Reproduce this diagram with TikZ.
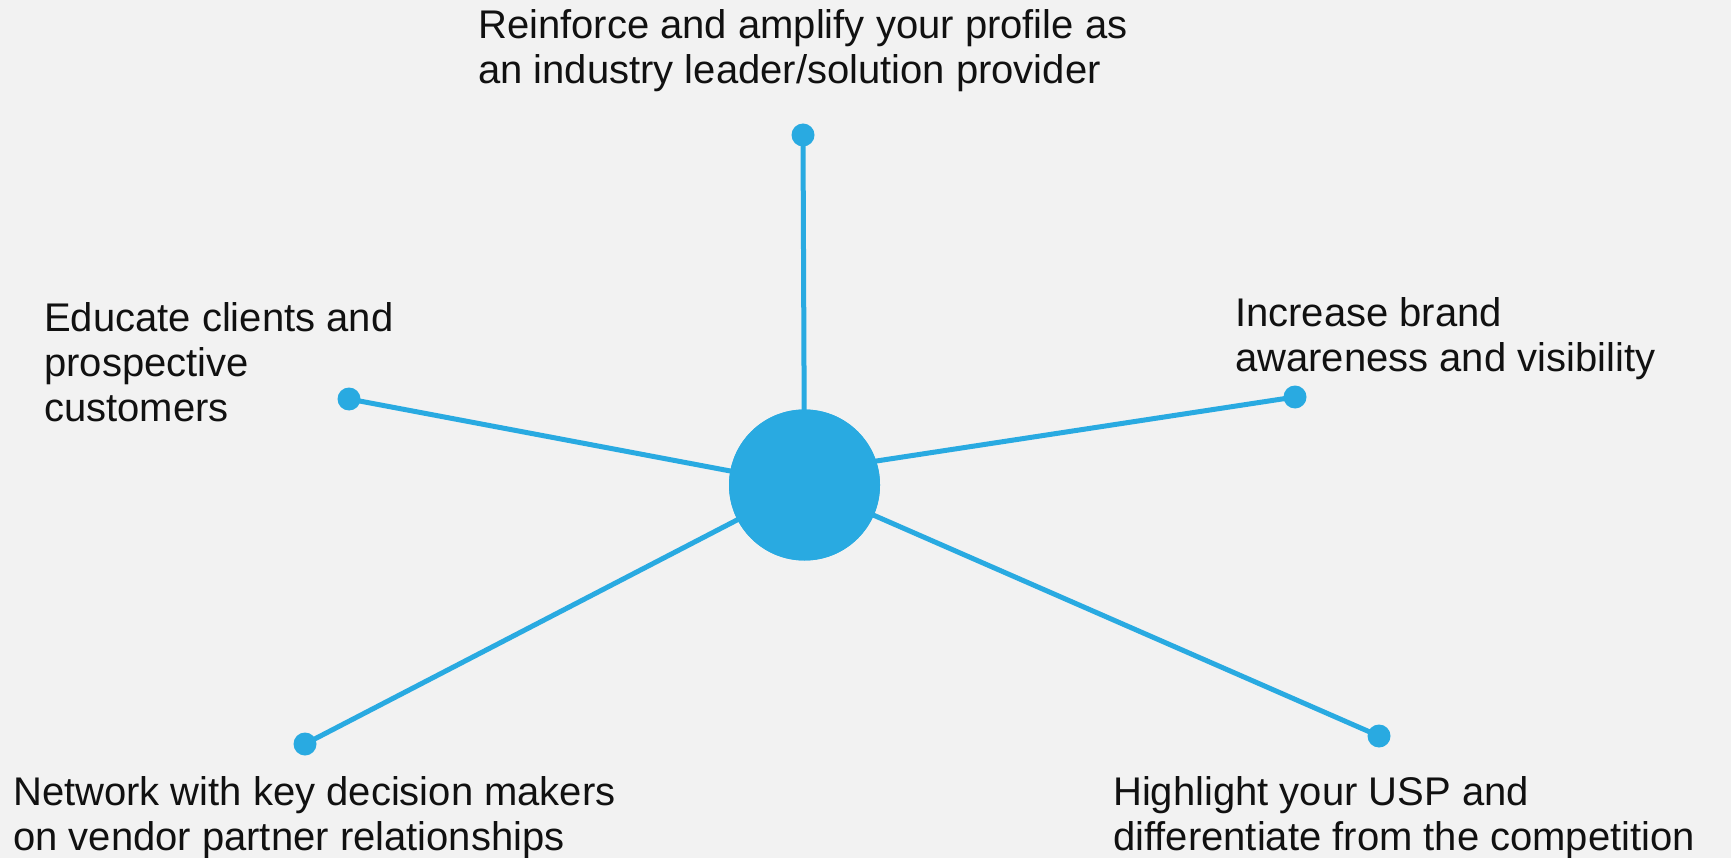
\documentclass[tikz,border=0pt]{standalone}
\usepackage{fontspec}
\setmainfont{Liberation Sans}
\definecolor{spokeblue}{HTML}{29AAE1}
\definecolor{paper}{HTML}{F2F2F2}
\definecolor{ink}{HTML}{111111}
\begin{document}
\begin{tikzpicture}[x=1pt,y=-1pt,
	hub/.style={circle,fill=spokeblue,inner sep=0,minimum size=151pt},
	tip/.style={circle,fill=spokeblue,inner sep=0,minimum size=23pt},
	spoke/.style={draw=spokeblue,line width=5pt},
	goal/.style={anchor=base west,align=left,inner sep=0,text=ink,font=\fontsize{40}{45}\selectfont}]
			\fill[paper] (0,0) rectangle (1731,858);
			\useasboundingbox (0,0) rectangle (1731,858);
			% centre and the five end points
			\node[hub] (hub) at (804.5,485) {};
			\node[tip] (up) at (803,135) {};
			\node[tip] (west) at (349,399) {};
			\node[tip] (east) at (1295,397) {};
			\node[tip] (sw) at (305,744) {};
			\node[tip] (se) at (1379,736) {};
			\coordinate (eastAim) at (804.5,472);
			\draw[spoke] (hub.center)--(up.center);
			\draw[spoke] (hub.center)--(west.center);
			\draw[spoke] (eastAim)--(east.center);
			\draw[spoke] (hub.center)--(sw.center);
			\draw[spoke] (hub.center)--(se.center);
			\node[hub] at (hub) {};
			% labels, placed by the baseline of their last line
			\node[goal] (upText) at (478,84) {Reinforce and amplify your profile as\\an industry leader/solution provider};
			\node[goal] (westText) at (44,421) {Educate clients and\\prospective\\customers};
			\node[goal] (eastText) at (1235,371) {Increase brand\\awareness and visibility};
			\node[goal] (swText) at (13,850) {Network with key decision makers\\on vendor partner relationships};
			\node[goal] (seText) at (1113,850) {Highlight your USP and\\differentiate from the competition};
\end{tikzpicture}
\end{document}
